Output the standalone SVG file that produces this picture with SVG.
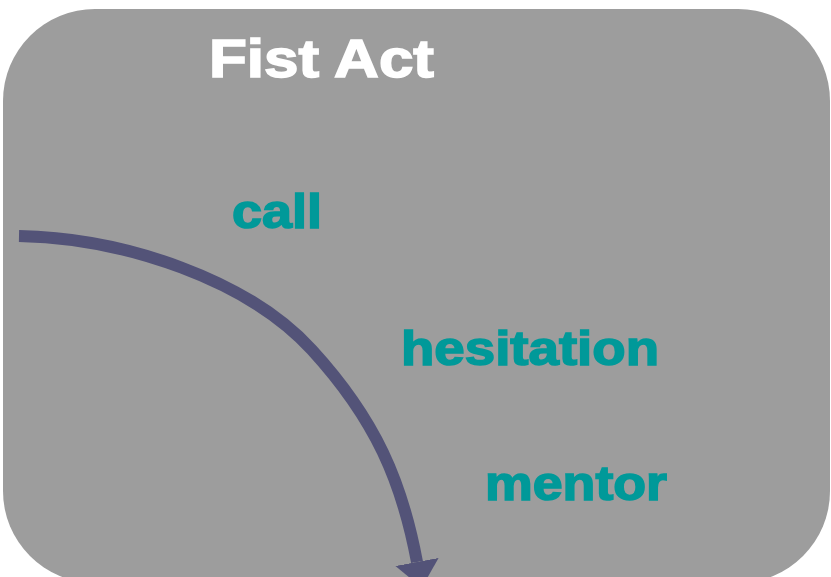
<svg xmlns="http://www.w3.org/2000/svg" width="831" height="577" viewBox="0 0 831 577">
<defs>
<style>
.lbl{font-family:"Liberation Sans",Arial,sans-serif;font-weight:bold;fill:#009999;stroke:#009999;stroke-width:1.6;font-size:48px}
.title{font-family:"Liberation Sans",Arial,sans-serif;font-weight:bold;fill:#ffffff;stroke:#ffffff;stroke-width:1.6;font-size:54px}
.flow{fill:none;stroke:#535378;stroke-width:12}
</style>
<marker id="ah" markerUnits="userSpaceOnUse" markerWidth="26" markerHeight="44" refX="0" refY="22" orient="auto" viewBox="0 0 26 44">
<path d="M0,0 L26,22 L0,44 Z" fill="#535378"/>
</marker>
</defs>
<g id="frame">
<rect x="3" y="9" width="827" height="574" rx="92" ry="92" fill="#9d9d9d"/>
</g>
<g id="title"><text class="title" x="209" y="77" textLength="225" lengthAdjust="spacingAndGlyphs">Fist Act</text></g>
<g id="call"><text class="lbl" x="232" y="228" textLength="90" lengthAdjust="spacingAndGlyphs">call</text></g>
<g id="hesitation"><text class="lbl" x="401" y="365" textLength="258" lengthAdjust="spacingAndGlyphs">hesitation</text></g>
<g id="mentor"><text class="lbl" x="485" y="500" textLength="182" lengthAdjust="spacingAndGlyphs">mentor</text></g>
<g id="connectors">
<path class="flow" d="M19,236 C125,238 248,280 312,350 S402,482 417,562" marker-end="url(#ah)"/>
</g>
</svg>
